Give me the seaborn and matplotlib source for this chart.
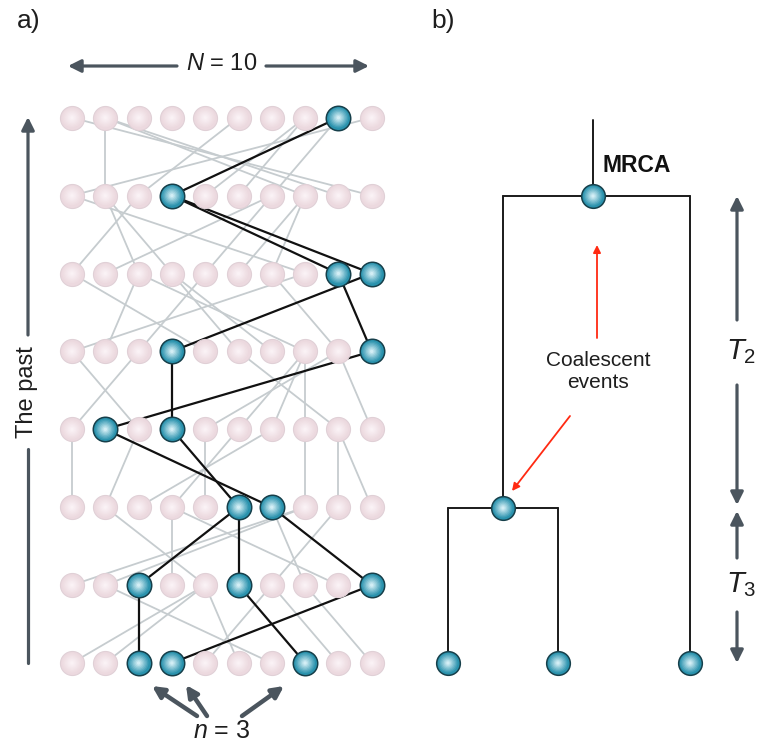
import numpy as np
import pandas as pd
import matplotlib
matplotlib.use("Agg")
import matplotlib.pyplot as plt
import seaborn as sns

# ---------------- data ----------------
n_cols = 10
n_rows = 8  # row 0 = present (bottom), row 7 = top
# parent column (in row r+1) of every individual of row r
parents_row0 = [4, 4, 2, 9, 6, 4, 1, 5, 6, 7]
parents_row1 = [7, 7, 5, 3, 1, 5, 8, 6, 3, 6]
parents_row2 = [0, 2, 6, 5, 4, 3, 1, 7, 8, 8]
parents_row3 = [2, 9, 0, 3, 8, 7, 7, 7, 5, 8]
parents_row4 = [7, 2, 4, 9, 0, 3, 3, 2, 6, 8]
parents_row5 = [2, 6, 1, 1, 6, 7, 7, 0, 3, 3]
parents_row6 = [9, 1, 5, 8, 7, 7, 8, 1, 1, 0]
parents = [parents_row0, parents_row1, parents_row2, parents_row3,
           parents_row4, parents_row5, parents_row6]
sample_cols = [2, 3, 7]  # n = 3 sampled at present

t2_label = "$T_2$"
t3_label = "$T_3$"

# ---------------- layout ----------------
X0, DX = 72.0, 33.3
Y0, DY = 663.0, 77.9


def px(c):
    return X0 + c * DX


def py(r):
    return Y0 - r * DY


# lineage of the sample
blue = {0: set(sample_cols)}
for r in range(n_rows - 1):
    blue[r + 1] = {parents[r][c] for c in blue[r]}

sns.set_theme(style="white")
plt.rcParams['font.family'] = ['Liberation Sans', 'DejaVu Sans']
plt.rcParams['mathtext.fontset'] = 'custom'
plt.rcParams['mathtext.it'] = 'Liberation Sans:italic'
plt.rcParams['mathtext.rm'] = 'Liberation Sans'

fig = plt.figure(figsize=(7.61, 7.44), dpi=100)
ax = fig.add_axes([0, 0, 1, 1])
ax.set_xlim(0, 761)
ax.set_ylim(744, 0)
ax.axis("off")

GREY_LINE = "#c6cccf"
ARROW = "#4b555e"
TXT = "#1e1e1e"

# edges
for r in range(n_rows - 1):
    for c in range(n_cols):
        p = parents[r][c]
        is_black = c in blue[r]
        ax.plot([px(c), px(p)], [py(r), py(r + 1)],
                color="#111111" if is_black else GREY_LINE,
                lw=1.6 if is_black else 1.3, zorder=3 if is_black else 2,
                solid_capstyle="round")

# nodes
rows_all, cols_all, kind = [], [], []
for r in range(n_rows):
    for c in range(n_cols):
        rows_all.append(r)
        cols_all.append(c)
        kind.append("blue" if c in blue[r] else "pink")
nodes = pd.DataFrame({"row": rows_all, "col": cols_all, "kind": kind})
nodes["x"] = px(nodes["col"])
nodes["y"] = py(nodes["row"])
pink = nodes[nodes.kind == "pink"]
bl = nodes[nodes.kind == "blue"]


def grad_nodes(df, axis, s, outer, inner, edge, elw, z, steps=7):
    sns.scatterplot(data=df, x="x", y="y", s=s, color=outer,
                    edgecolor=edge, linewidth=elw, ax=axis, legend=False, zorder=z)
    o = np.array(matplotlib.colors.to_rgb(outer))
    i = np.array(matplotlib.colors.to_rgb(inner))
    for k in range(1, steps + 1):
        f = k / steps
        col = o * (1 - f) + i * f
        frac = (1 - f * 0.85) ** 2
        sns.scatterplot(data=df, x="x", y="y", s=s * frac * 0.85, color=tuple(col),
                        edgecolor="none", linewidth=0, ax=axis, legend=False,
                        zorder=z + 0.01 * k)


grad_nodes(pink, ax, 300, "#ecd9df", "#faf2f5", "#e0d0d6", 0.8, 4)
grad_nodes(bl, ax, 310, "#2a92ad", "#d3eef5", "#163f4a", 1.1, 5)

# ---------------- panel a annotations ----------------
ax.text(17, 21, "a)", fontsize=19, va="center", ha="left", color=TXT)
ax.text(431, 21, "b)", fontsize=19, va="center", ha="left", color=TXT)

arrow_kw = dict(arrowstyle="-|>", color=ARROW, lw=2.3, mutation_scale=19, shrinkA=0, shrinkB=0)
# N = 10
ax.text(222, 64, "$N$ = 10", fontsize=17, ha="center", va="center", color=TXT)
ax.annotate("", xy=(68, 66), xytext=(177, 66), arrowprops=arrow_kw)
ax.annotate("", xy=(369, 66), xytext=(266, 66), arrowprops=arrow_kw)
# The past
ax.text(27, 392, "The past", fontsize=17, rotation=90, ha="center", va="center", color=TXT)
ax.plot([28, 28], [663, 449], color=ARROW, lw=2.3)
ax.annotate("", xy=(28, 117), xytext=(28, 335), arrowprops=arrow_kw)
# n = 3
thick = dict(arrowstyle="-|>", color=ARROW, lw=3.2, mutation_scale=17, shrinkA=0, shrinkB=0)
ax.annotate("", xy=(152, 686), xytext=(197, 716), arrowprops=thick)
ax.annotate("", xy=(186, 685), xytext=(207, 716), arrowprops=thick)
ax.annotate("", xy=(284, 686), xytext=(242, 716), arrowprops=thick)
ax.text(222, 731, "$n$ = 3", fontsize=18, ha="center", va="center", color=TXT)

# ---------------- panel b: genealogy ----------------
tree_x = {"L1": 448, "L2": 558, "L3": 690, "A": 503, "M": 593}
tree_y = {"leaf": 663, "A": 508, "M": 196, "top": 120}
tc = "#1a1a1a"
tlw = 1.4
ax.plot([tree_x["M"], tree_x["M"]], [tree_y["top"], tree_y["M"]], color=tc, lw=tlw)
ax.plot([tree_x["A"], tree_x["L3"]], [tree_y["M"], tree_y["M"]], color=tc, lw=tlw)
ax.plot([tree_x["A"], tree_x["A"]], [tree_y["M"], tree_y["A"]], color=tc, lw=tlw)
ax.plot([tree_x["L3"], tree_x["L3"]], [tree_y["M"], tree_y["leaf"]], color=tc, lw=tlw)
ax.plot([tree_x["L1"], tree_x["L2"]], [tree_y["A"], tree_y["A"]], color=tc, lw=tlw)
ax.plot([tree_x["L1"], tree_x["L1"]], [tree_y["A"], tree_y["leaf"]], color=tc, lw=tlw)
ax.plot([tree_x["L2"], tree_x["L2"]], [tree_y["A"], tree_y["leaf"]], color=tc, lw=tlw)

tree_nodes = pd.DataFrame({
    "x": [tree_x["M"], tree_x["A"], tree_x["L1"], tree_x["L2"], tree_x["L3"]],
    "y": [tree_y["M"], tree_y["A"], tree_y["leaf"], tree_y["leaf"], tree_y["leaf"]],
})
grad_nodes(tree_nodes, ax, 290, "#2a92ad", "#d3eef5", "#163f4a", 1.1, 5)

ax.text(602, 166, "MRCA", fontsize=16.5, fontweight="bold", ha="left", va="center", color="#111111")

red = dict(arrowstyle="-|>", color="#ff2a12", lw=1.3, mutation_scale=11, shrinkA=0, shrinkB=0)
ax.annotate("", xy=(597, 245), xytext=(597, 338), arrowprops=red)
ax.annotate("", xy=(512, 491), xytext=(570, 416), arrowprops=red)
ax.text(598, 372, "Coalescent\nevents", fontsize=15, ha="center", va="center",
        color=TXT, linespacing=1.2)

# T2 / T3
ax.annotate("", xy=(737, 196), xytext=(737, 320), arrowprops=arrow_kw)
ax.annotate("", xy=(737, 505), xytext=(737, 385), arrowprops=arrow_kw)
ax.text(741, 352, t2_label, fontsize=21, ha="center", va="center", color=TXT)
ax.annotate("", xy=(737, 511), xytext=(737, 558), arrowprops=arrow_kw)
ax.annotate("", xy=(737, 663), xytext=(737, 612), arrowprops=arrow_kw)
ax.text(741, 585, t3_label, fontsize=21, ha="center", va="center", color=TXT)

fig.savefig("out.png", dpi=100)
